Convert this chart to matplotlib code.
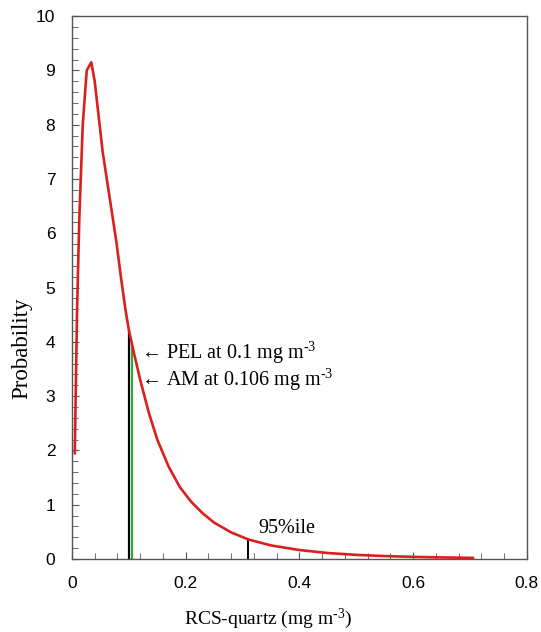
import matplotlib
matplotlib.use("Agg")
import matplotlib.pyplot as plt
import numpy as np
from matplotlib.ticker import MultipleLocator

# lognormal-like distribution of RCS-quartz exposure
conc = [0.005, 0.009, 0.013, 0.019, 0.026, 0.034, 0.040, 0.047, 0.054, 0.062,
        0.070, 0.078, 0.086, 0.094, 0.100, 0.110, 0.120, 0.135, 0.150, 0.170,
        0.190, 0.210, 0.230, 0.250, 0.280, 0.310, 0.350, 0.400, 0.450, 0.500,
        0.550, 0.600, 0.650, 0.705]
prob = [1.95, 4.6, 6.3, 8.0, 9.0, 9.15, 8.8, 8.15, 7.5, 6.95,
        6.4, 5.85, 5.2, 4.6, 4.22, 3.75, 3.3, 2.7, 2.2, 1.7,
        1.32, 1.05, 0.84, 0.67, 0.49, 0.36, 0.25, 0.165, 0.11, 0.076,
        0.054, 0.039, 0.029, 0.021]

pel = 0.1
am = 0.106
p95 = 0.31

plt.rcParams["mathtext.fontset"] = "custom"
plt.rcParams["mathtext.rm"] = "Liberation Serif"
plt.rcParams["mathtext.it"] = "Liberation Serif:italic"

serif = ["Liberation Serif", "DejaVu Serif"]
sup = "$^{\\text{-3}}$"

fig = plt.figure(figsize=(5.41, 6.32), dpi=100)
ax = fig.add_axes([0.133, 0.1155, 0.841, 0.859])

# vertical markers
ax.vlines(pel, 0, np.interp(pel, conc, prob), color="black", lw=1.6, zorder=2)
ax.vlines(am, 0, np.interp(am, conc, prob), color="#2ea836", lw=1.6, zorder=2)
ax.vlines(p95, 0, np.interp(p95, conc, prob), color="black", lw=1.4, zorder=2)

ax.plot(conc, prob, color="#d8201c", lw=1.9, zorder=3)

ax.text(0.1222, 3.79, "\u2190 PEL at 0.1 mg m" + sup, family=serif,
        fontsize=14.5, va="center", ha="left")
ax.text(0.1222, 3.30, "\u2190 AM at 0.106 mg m" + sup, family=serif,
        fontsize=14.5, va="center", ha="left")
ax.text(0.328, 0.57, "95%ile", family=serif, fontsize=14.5, va="center", ha="left")

ax.set_xlim(0, 0.8)
ax.set_ylim(0, 10)
ax.xaxis.set_major_locator(MultipleLocator(0.2))
ax.xaxis.set_minor_locator(MultipleLocator(0.04))
ax.yaxis.set_major_locator(MultipleLocator(1))
ax.yaxis.set_minor_locator(MultipleLocator(0.2))
ax.set_xticklabels([f"{v:g}" for v in ax.get_xticks()])

ax.tick_params(which="both", direction="in", top=False, right=False,
               color="#555555", labelsize=12.5, pad=12)
ax.tick_params(which="major", length=5)
ax.tick_params(which="minor", length=4)
for lab in ax.get_xticklabels() + ax.get_yticklabels():
    lab.set_family("Liberation Sans")

for sp in ax.spines.values():
    sp.set_color("#555555")
    sp.set_linewidth(1.0)

ax.set_xlabel("RCS-quartz (mg m" + sup + ")", family=serif, fontsize=14)
ax.xaxis.set_label_coords(0.43, -0.088)
ax.set_ylabel("Probability", family=serif, fontsize=16.5)
ax.yaxis.set_label_coords(-0.088, 0.389)

fig.savefig("out.png", dpi=100)
